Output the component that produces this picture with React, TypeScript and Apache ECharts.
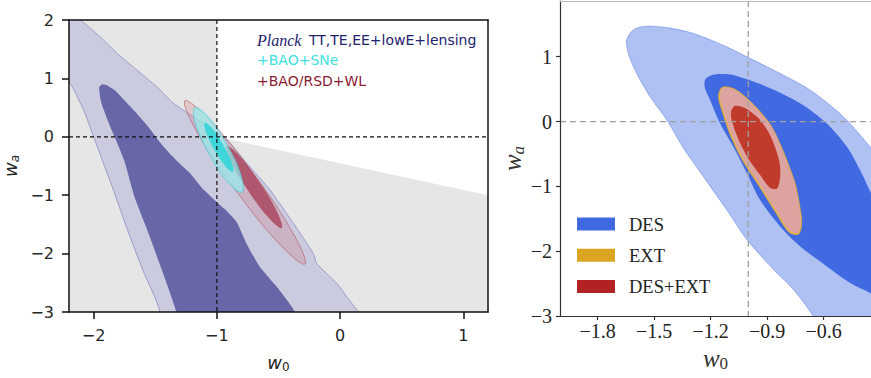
import React, { useEffect, useRef } from "react";
import * as echarts from "echarts";

type Pt = [number, number];

// ---------------- Left panel (Planck) ----------------
const leftXTicks = [-2, -1, 0, 1];
const leftXRange: Pt = [-2.2, 1.2];
const leftYRange: Pt = [-3, 2];

const priorAllowed: Pt[] = [[-1, 2], [1.2, 2], [1.2, -1], [-1, 0]];

const planckOuter: Pt[] = [
  [-2.3, 2.3], [-2.114, 2.01], [-1.951, 1.72], [-1.815, 1.44], [-1.653, 1.15],
  [-1.49, 0.86], [-1.355, 0.58], [-1.154, 0.29], [-1.111, 0.235], [-0.921, -0.05],
  [-0.759, -0.45], [-0.569, -0.91], [-0.38, -1.48], [-0.217, -2.0], [-0.189, -2.17],
  [-0.027, -2.51], [0.054, -2.74], [0.149, -3.0], [0.25, -3.3], [-1.55, -3.3],
  [-1.463, -3.0], [-1.6, -2.29], [-1.734, -1.54], [-1.85, -0.85], [-1.93, -0.4],
  [-2.0, 0.0], [-2.08, 0.45], [-2.2, 0.95], [-2.35, 1.25],
];

const planckInner: Pt[] = [
  [-1.93, 0.9], [-1.955, 0.85], [-1.94, 0.6], [-1.88, 0.25], [-1.82, -0.05],
  [-1.75, -0.42], [-1.665, -1.05], [-1.555, -1.65], [-1.45, -2.26], [-1.328, -3.0],
  [-1.3, -3.3], [-0.33, -3.3], [-0.366, -3.0], [-0.49, -2.63], [-0.65, -2.23],
  [-0.759, -1.83], [-0.84, -1.46], [-0.93, -1.25], [-1.0, -1.12], [-1.11, -0.9],
  [-1.22, -0.62], [-1.33, -0.4], [-1.42, -0.2], [-1.49, -0.02], [-1.56, 0.18],
  [-1.65, 0.4], [-1.74, 0.6], [-1.83, 0.8], [-1.89, 0.88],
];

const rsdOuter: Pt[] = [
  [-0.285, -2.18], [-0.372, -1.686], [-0.693, -0.66], [-1.062, 0.294],
  [-1.26, 0.619], [-1.172, 0.122], [-0.851, -0.904], [-0.483, -1.857],
];
const rsdInner: Pt[] = [
  [-0.474, -1.564], [-0.506, -1.309], [-0.65, -0.792], [-0.822, -0.314],
  [-0.921, -0.155], [-0.889, -0.409], [-0.745, -0.926], [-0.573, -1.404],
];
const snOuter: Pt[] = [
  [-0.797, -0.945], [-0.802, -0.675], [-0.917, -0.139], [-1.072, 0.345],
  [-1.179, 0.498], [-1.173, 0.227], [-1.059, -0.308], [-0.903, -0.794],
];
const snInner: Pt[] = [
  [-0.87, -0.601], [-0.878, -0.448], [-0.949, -0.137], [-1.039, 0.147],
  [-1.098, 0.241], [-1.089, 0.087], [-1.019, -0.223], [-0.928, -0.508],
];
const leftRefV: Pt[] = [[-1, 2], [-1, -3]];
const leftRefH: Pt[] = [[-2.2, 0], [1.2, 0]];

const leftLegend = ["Planck", "TT,TE,EE+lowE+lensing", "+BAO+SNe", "+BAO/RSD+WL"];

// ---------------- Right panel (DES) ----------------
const rightXTicks = [-1.8, -1.5, -1.2, -0.9, -0.6];
const rightXRange: Pt = [-2.0, -0.348];
const rightYRange: Pt = [-3, 1.86];

const desOuter: Pt[] = [
  [-1.646, 1.257], [-1.618, 1.395], [-1.575, 1.457], [-1.522, 1.472], [-1.416, 1.442],
  [-1.292, 1.36], [-1.115, 1.154], [-0.991, 0.975], [-0.849, 0.769], [-0.672, 0.488],
  [-0.496, 0.077], [-0.354, -0.385], [-0.274, -0.666], [-0.2, -1.2], [-0.2, -3.3],
  [-0.619, -3.2], [-0.655, -3.0], [-0.761, -2.589], [-0.867, -2.28], [-1.008, -1.818],
  [-1.115, -1.358], [-1.239, -0.846], [-1.345, -0.405], [-1.433, 0.026], [-1.522, 0.385],
  [-1.593, 0.745], [-1.637, 1.052],
];
const desInner: Pt[] = [
  [-1.23, 0.642], [-1.198, 0.711], [-1.15, 0.734], [-1.08, 0.718], [-0.902, 0.538],
  [-0.725, 0.283], [-0.584, -0.025], [-0.477, -0.385], [-0.407, -0.743], [-0.348, -1.102],
  [-0.248, -1.666], [-0.248, -2.82], [-0.348, -2.651], [-0.46, -2.486], [-0.584, -2.231],
  [-0.725, -1.923], [-0.832, -1.615], [-0.938, -1.205], [-1.008, -0.794], [-1.08, -0.385],
  [-1.15, -0.025], [-1.203, 0.334], [-1.23, 0.518],
];
const extOuter: Pt[] = [
  [-1.138, 0.528], [-1.07, 0.497], [-0.972, 0.262], [-0.882, -0.05], [-0.829, -0.358],
  [-0.786, -0.666], [-0.749, -0.974], [-0.728, -1.282], [-0.716, -1.55], [-0.732, -1.735],
  [-0.783, -1.71], [-0.855, -1.4], [-0.946, -0.98], [-1.031, -0.595], [-1.095, -0.21],
  [-1.137, 0.149], [-1.158, 0.385],
];
const desExtOuter: Pt[] = [
  [-1.134, 0.518], [-1.071, 0.488], [-0.975, 0.257], [-0.885, -0.051], [-0.832, -0.358],
  [-0.789, -0.666], [-0.752, -0.974], [-0.731, -1.282], [-0.72, -1.543], [-0.736, -1.712],
  [-0.779, -1.682], [-0.848, -1.389], [-0.938, -0.974], [-1.023, -0.589], [-1.087, -0.205],
  [-1.129, 0.149], [-1.15, 0.38],
];
const desExtInner: Pt[] = [
  [-1.071, 0.242], [-1.018, 0.211], [-0.948, 0.057], [-0.89, -0.174], [-0.853, -0.435],
  [-0.832, -0.666], [-0.832, -0.897], [-0.848, -1.035], [-0.885, -1.02], [-0.938, -0.82],
  [-0.996, -0.589], [-1.044, -0.328], [-1.081, -0.051], [-1.092, 0.134],
];
const rightRefV: Pt[] = [[-1, 1.86], [-1, -3]];
const rightRefH: Pt[] = [[-2.0, 0], [-0.348, 0]];

const rightLegendNames = ["DES", "EXT", "DES+EXT"];
const rightLegendColors = ["#4169e1", "#daa520", "#b22222"];

// ---------------- helpers ----------------
const minus = (s: string) => s.replace("-", "\u2212");
const fmtInt = (v: number) => minus(String(Math.round(v)));
const fmt1 = (v: number) => minus(v.toFixed(1));

const polySeries = (ax: number, pts: Pt[], style: any, smooth = 0, z = 2) => ({
  type: "custom",
  xAxisIndex: ax === 0 ? 0 : 2,
  yAxisIndex: ax === 0 ? 0 : 2,
  clip: true,
  silent: true,
  z,
  data: [pts[0]],
  renderItem: (_p: any, api: any) => ({
    type: "polygon",
    shape: { points: pts.map((p) => api.coord(p)), smooth },
    style,
  }),
});

const dashSeries = (ax: number, seg: Pt[], color: string, dash: number[], width: number) => ({
  type: "custom",
  xAxisIndex: ax === 0 ? 0 : 2,
  yAxisIndex: ax === 0 ? 0 : 2,
  clip: true,
  silent: true,
  z: 5,
  data: [seg[0]],
  renderItem: (_p: any, api: any) => {
    const a = api.coord(seg[0]);
    const b = api.coord(seg[1]);
    return {
      type: "line",
      shape: { x1: a[0], y1: a[1], x2: b[0], y2: b[1] },
      style: { stroke: color, lineWidth: width, lineDash: dash },
    };
  },
});

export default function App() {
  const ref = useRef<HTMLDivElement>(null);

  useEffect(() => {
    document.body.style.margin = "0";
    if (!ref.current) return;
    const chart = echarts.init(ref.current, undefined, { renderer: "svg" });

    const sansRich = {
      w: { fontFamily: "DejaVu Sans", fontStyle: "italic", fontSize: 18, color: "#222" },
      s: { fontFamily: "DejaVu Sans", fontSize: 12, color: "#222", padding: [9, 0, 0, 0] },
      si: { fontFamily: "DejaVu Sans", fontStyle: "italic", fontSize: 12, color: "#222", padding: [9, 0, 0, 0] },
    };
    const serifRich = {
      w: { fontFamily: "Liberation Serif", fontStyle: "italic", fontSize: 25, color: "#333" },
      s: { fontFamily: "Liberation Serif", fontSize: 17, color: "#333", padding: [11, 0, 0, 0] },
      si: { fontFamily: "Liberation Serif", fontStyle: "italic", fontSize: 17, color: "#333", padding: [11, 0, 0, 0] },
    };

    const leftLine = { color: "#111", width: 1.5 };
    const rightLine = { color: "#333", width: 1.2 };

    const option: any = {
      animation: false,
      textStyle: { fontFamily: "DejaVu Sans" },
      grid: [
        { left: 69, top: 20, width: 419, height: 292, show: true, backgroundColor: "#e6e6e6", borderWidth: 0 },
        { left: 560, top: 1, width: 311, height: 315, show: false },
      ],
      xAxis: [
        {
          gridIndex: 0, type: "value", min: leftXRange[0], max: leftXRange[1], position: "bottom", z: 10,
          axisLine: { show: true, onZero: false, lineStyle: leftLine },
          axisTick: { show: true, length: 7, customValues: leftXTicks, lineStyle: leftLine },
          axisLabel: { customValues: leftXTicks, formatter: fmtInt, margin: 15, fontFamily: "DejaVu Sans", fontSize: 16, color: "#262626" },
          splitLine: { show: false },
          name: "{w|w}{s|0}", nameLocation: "middle", nameGap: 40,
          nameTextStyle: { rich: sansRich },
        },
        {
          gridIndex: 0, type: "value", min: leftXRange[0], max: leftXRange[1], position: "top", z: 10,
          axisLine: { show: true, onZero: false, lineStyle: leftLine },
          axisTick: { show: false }, axisLabel: { show: false }, splitLine: { show: false },
        },
        {
          gridIndex: 1, type: "value", min: rightXRange[0], max: rightXRange[1], position: "bottom", z: 10,
          axisLine: { show: true, onZero: false, lineStyle: rightLine },
          axisTick: { show: true, length: 4, customValues: rightXTicks, lineStyle: rightLine },
          axisLabel: { customValues: rightXTicks, formatter: fmt1, margin: 5, fontFamily: "Liberation Serif", fontSize: 20, color: "#222" },
          splitLine: { show: false },
          name: "{w|w}{s|0}", nameLocation: "middle", nameGap: 26,
          nameTextStyle: { rich: serifRich },
        },
        {
          gridIndex: 1, type: "value", min: rightXRange[0], max: rightXRange[1], position: "top", z: 10,
          axisLine: { show: true, onZero: false, lineStyle: { color: "#bbb", width: 1 } },
          axisTick: { show: false }, axisLabel: { show: false }, splitLine: { show: false },
        },
      ],
      yAxis: [
        {
          gridIndex: 0, type: "value", min: leftYRange[0], max: leftYRange[1], interval: 1, position: "left", z: 10,
          axisLine: { show: true, onZero: false, lineStyle: leftLine },
          axisTick: { show: true, length: 7, lineStyle: leftLine },
          axisLabel: { formatter: fmtInt, margin: 15, fontFamily: "DejaVu Sans", fontSize: 16, color: "#262626" },
          splitLine: { show: false },
          name: "{w|w}{si|a}", nameLocation: "middle", nameGap: 48,
          nameTextStyle: { rich: sansRich },
        },
        {
          gridIndex: 0, type: "value", min: leftYRange[0], max: leftYRange[1], position: "right", z: 10,
          axisLine: { show: true, onZero: false, lineStyle: leftLine },
          axisTick: { show: false }, axisLabel: { show: false }, splitLine: { show: false },
        },
        {
          gridIndex: 1, type: "value", min: rightYRange[0], max: rightYRange[1], interval: 1, position: "left", z: 10,
          axisLine: { show: true, onZero: false, lineStyle: rightLine },
          axisTick: { show: true, length: 4, lineStyle: rightLine },
          axisLabel: { formatter: fmtInt, margin: 8, fontFamily: "Liberation Serif", fontSize: 20, color: "#222", showMaxLabel: false },
          splitLine: { show: false },
          name: "{w|w}{si|a}", nameLocation: "middle", nameGap: 33,
          nameTextStyle: { rich: serifRich },
        },
      ],
      series: [
        polySeries(0, priorAllowed, { fill: "#ffffff" }, 0, 1),
        polySeries(0, planckOuter, { fill: "#cbcbe0", stroke: "#9c9ccb", lineWidth: 1 }, 0.2),
        polySeries(0, planckInner, { fill: "#6767a8" }, 0.2),
        polySeries(0, rsdOuter, { fill: "rgba(205,120,130,0.28)", stroke: "rgba(185,105,115,0.75)", lineWidth: 1 }, 0.4),
        polySeries(0, rsdInner, { fill: "rgba(160,30,60,0.62)" }, 0.4),
        polySeries(0, snOuter, { fill: "rgba(150,238,238,0.7)", stroke: "rgba(70,205,215,0.7)", lineWidth: 1 }, 0.4),
        polySeries(0, snInner, { fill: "#3fd6da" }, 0.4),
        dashSeries(0, leftRefV, "#111", [4, 3], 1.2),
        dashSeries(0, leftRefH, "#111", [4, 3], 1.2),

        polySeries(1, desOuter, { fill: "rgba(65,105,225,0.42)", stroke: "rgba(65,105,225,0.55)", lineWidth: 0.8 }, 0.3),
        polySeries(1, desInner, { fill: "#4169e1" }, 0.3),
        polySeries(1, extOuter, { fill: "#e2b35a", stroke: "#d9a63a", lineWidth: 0.8 }, 0.3),
        polySeries(1, desExtOuter, { fill: "#dca3a1" }, 0.3),
        polySeries(1, desExtInner, { fill: "#c13b2d" }, 0.3),
        dashSeries(1, rightRefV, "#a0a0a0", [6, 4], 1.3),
        dashSeries(1, rightRefH, "#a0a0a0", [6, 4], 1.3),
      ],
      graphic: [
        { type: "text", x: 257, y: 40, z: 20, style: { text: leftLegend[0], fill: "#22226e", fontFamily: "Liberation Serif", fontStyle: "italic", fontSize: 16, verticalAlign: "middle", align: "left" } },
        { type: "text", x: 309, y: 40, z: 20, style: { text: leftLegend[1], fill: "#22226e", fontFamily: "DejaVu Sans", fontSize: 14, verticalAlign: "middle", align: "left" } },
        { type: "text", x: 257, y: 60, z: 20, style: { text: leftLegend[2], fill: "#3ee0e0", fontFamily: "DejaVu Sans", fontSize: 14, verticalAlign: "middle", align: "left" } },
        { type: "text", x: 257, y: 80.5, z: 20, style: { text: leftLegend[3], fill: "#8a1c32", fontFamily: "DejaVu Sans", fontSize: 14, verticalAlign: "middle", align: "left" } },
        ...rightLegendNames.flatMap((name, i) => [
          { type: "rect", z: 20, shape: { x: 577, y: 217.5 + i * 31.3, width: 38, height: 13 }, style: { fill: rightLegendColors[i] } },
          { type: "text", x: 629, y: 224.5 + i * 31.3, z: 20, style: { text: name, fill: "#222", fontFamily: "Liberation Serif", fontSize: 18.5, verticalAlign: "middle", align: "left" } },
        ]),
      ],
    };

    chart.setOption(option);
    return () => chart.dispose();
  }, []);

  return <div ref={ref} style={{ width: 871, height: 378 }} />;
}
